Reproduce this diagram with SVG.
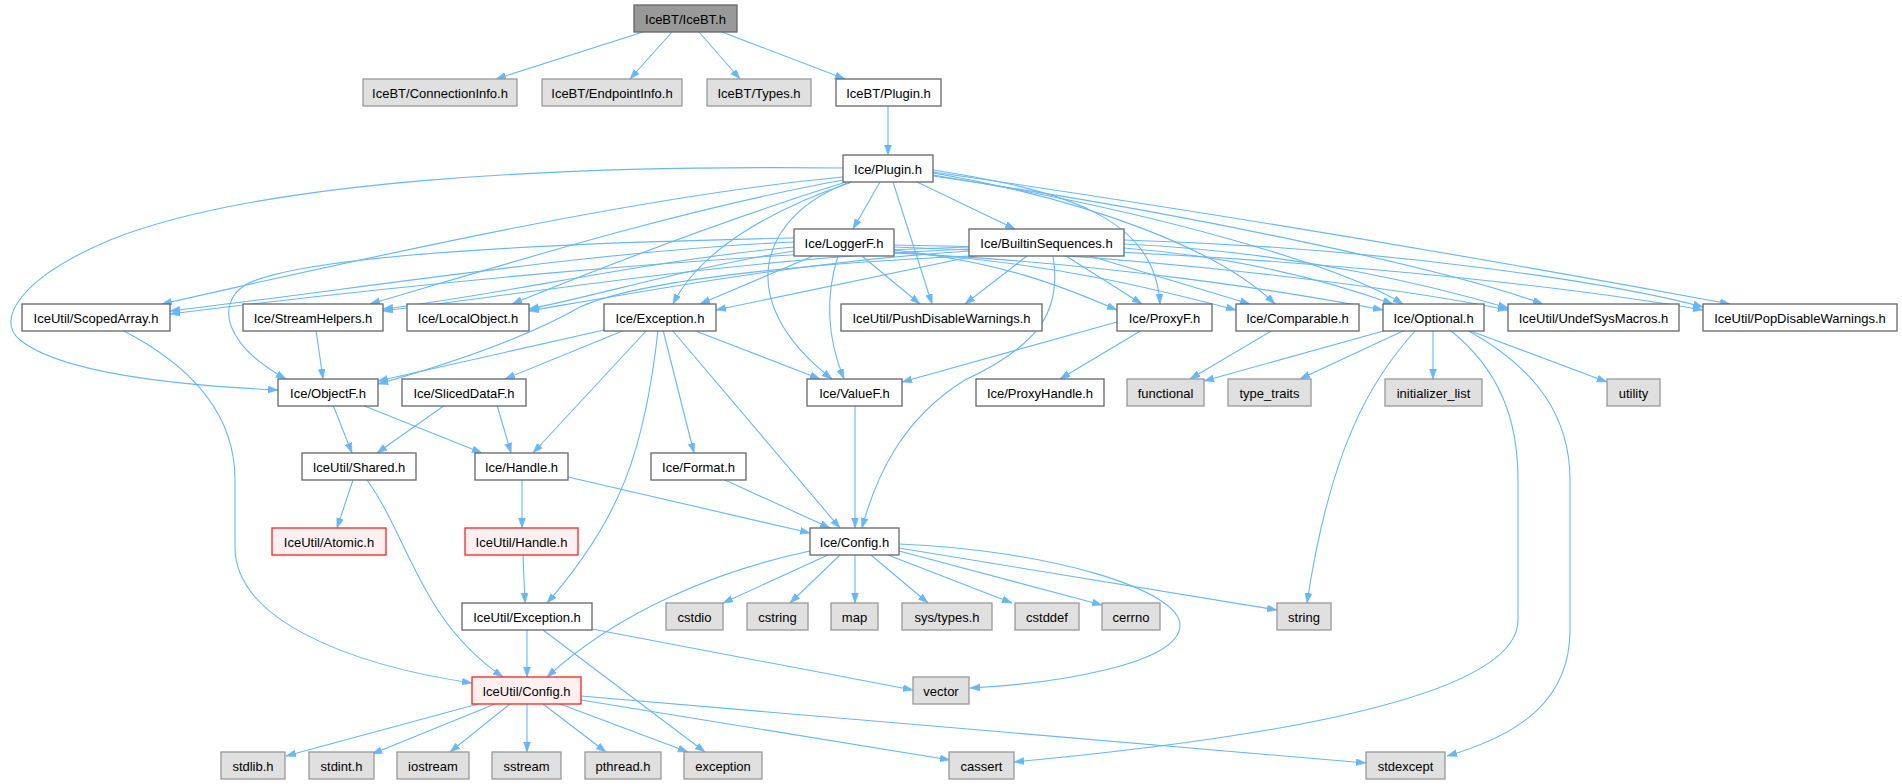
<svg xmlns="http://www.w3.org/2000/svg" width="1902" height="784" viewBox="0 0 1902 784">
<style>
text{font-family:"Liberation Sans",Arial,sans-serif;font-size:13px;text-anchor:middle;fill:#000}
.n rect{fill:#ffffff;stroke:#666666;stroke-width:1.3}
.g rect{fill:#e0e0e0;stroke:#999999;stroke-width:1.3}
.r rect{fill:#fff0f0;stroke:#ff2020;stroke-width:1.3}
.root rect{fill:#999999;stroke:#666666;stroke-width:1.3}
#edges path{fill:none;stroke:#63b8ff;stroke-width:1.1;marker-end:url(#a)}
</style>
<defs>
<marker id="a" markerUnits="userSpaceOnUse" markerWidth="11" markerHeight="8" refX="10" refY="3.5" orient="auto">
<path d="M0,0 L10,3.5 L0,7 z" fill="#63b8ff" stroke="#63b8ff" stroke-width="0.5"/>
</marker>
</defs>
<rect width="1902" height="784" fill="#ffffff"/>
<g id="edges">
<path d="M643,32 L496,79"/>
<path d="M672,32 L630,79"/>
<path d="M699,32 L740,79"/>
<path d="M722,32 L845,79"/>
<path d="M888,106 L888,155"/>
<path d="M843,168 C560,165 260,180 110,240 C20,278 -5,320 20,340 C60,372 170,385 278,390"/>
<path d="M843,177 C650,195 400,250 162,304"/>
<path d="M843,180 C680,210 520,260 370,304"/>
<path d="M846,182 C740,215 620,260 512,304"/>
<path d="M852,182 C770,210 700,250 673,304"/>
<path d="M880,182 L853,229"/>
<path d="M850,182 C760,215 730,300 832,379"/>
<path d="M893,182 L932,304"/>
<path d="M917,182 L1015,229"/>
<path d="M933,170 C1060,190 1155,215 1160,304"/>
<path d="M933,173 C1090,200 1220,250 1275,304"/>
<path d="M933,175 C1150,210 1340,265 1403,304"/>
<path d="M933,176 C1200,215 1450,270 1543,304"/>
<path d="M933,172 C1300,225 1600,280 1730,304"/>
<path d="M794,242 C600,250 350,290 170,311"/>
<path d="M794,247 C650,260 500,295 383,309"/>
<path d="M794,251 C700,265 600,295 529,309"/>
<path d="M794,238 C550,243 300,255 245,285 C215,305 225,345 286,379"/>
<path d="M813,256 L700,304"/>
<path d="M838,256 C824,300 828,340 844,379"/>
<path d="M862,256 L920,304"/>
<path d="M894,250 C1000,262 1060,285 1117,310"/>
<path d="M894,252 C1050,262 1160,290 1236,310"/>
<path d="M894,253 C1100,262 1290,292 1383,310"/>
<path d="M894,247 C1150,255 1400,288 1508,310"/>
<path d="M894,245 C1250,250 1560,285 1703,310"/>
<path d="M969,247 C700,255 400,285 170,314"/>
<path d="M969,249 C750,258 550,290 383,311"/>
<path d="M969,251 C800,262 650,290 529,311"/>
<path d="M970,256 C800,264 640,280 580,307 C540,330 480,355 378,384"/>
<path d="M975,256 L716,310"/>
<path d="M1027,256 L965,304"/>
<path d="M1066,256 L1142,304"/>
<path d="M1090,256 L1250,304"/>
<path d="M1124,248 C1250,258 1340,285 1393,304"/>
<path d="M1124,244 C1300,252 1440,288 1508,308"/>
<path d="M1124,240 C1400,248 1620,285 1703,307"/>
<path d="M1053,256 C1062,310 1040,345 965,380 C900,420 875,480 862,528"/>
<path d="M1117,322 L902,382"/>
<path d="M1142,330 L1060,379"/>
<path d="M1273,330 L1190,379"/>
<path d="M1387,330 L1204,381"/>
<path d="M1405,330 L1300,379"/>
<path d="M1433,330 L1433,379"/>
<path d="M1468,330 L1607,382"/>
<path d="M1416,330 C1370,380 1330,450 1307,603"/>
<path d="M1450,330 C1500,370 1518,420 1518,480 L1518,620 C1518,700 1250,740 1014,762"/>
<path d="M1467,330 C1540,370 1570,420 1570,480 L1570,630 C1570,700 1520,735 1447,756"/>
<path d="M316,330 L323,379"/>
<path d="M604,330 L378,381"/>
<path d="M625,330 L505,379"/>
<path d="M647,330 L533,453"/>
<path d="M658,330 C645,450 620,520 547,603"/>
<path d="M663,330 L694,453"/>
<path d="M672,330 L840,528"/>
<path d="M693,330 L820,379"/>
<path d="M333,405 L352,453"/>
<path d="M362,405 L482,453"/>
<path d="M445,405 L377,453"/>
<path d="M497,405 L511,453"/>
<path d="M353,480 L337,528"/>
<path d="M367,480 C410,540 420,620 503,677"/>
<path d="M522,480 L522,528"/>
<path d="M568,477 L810,533"/>
<path d="M725,480 L830,528"/>
<path d="M855,405 L855,528"/>
<path d="M122,330 C200,370 235,420 235,480 L235,547 C235,620 350,665 472,683"/>
<path d="M523,555 L525,603"/>
<path d="M527,630 L527,677"/>
<path d="M543,630 L705,752"/>
<path d="M592,629 L913,690"/>
<path d="M810,551 C720,570 620,610 547,677"/>
<path d="M828,555 L723,603"/>
<path d="M840,555 L790,603"/>
<path d="M855,555 L855,603"/>
<path d="M871,555 L928,603"/>
<path d="M888,555 L1012,603"/>
<path d="M899,551 L1102,605"/>
<path d="M899,548 L1277,610"/>
<path d="M899,544 C1050,550 1180,590 1180,625 C1180,665 1050,684 970,688"/>
<path d="M478,704 L286,756"/>
<path d="M495,704 L372,754"/>
<path d="M510,704 L450,752"/>
<path d="M527,704 L527,752"/>
<path d="M543,704 L606,752"/>
<path d="M560,704 L688,752"/>
<path d="M581,700 L950,760"/>
<path d="M581,696 L1366,763"/>
</g>
<g id="n_icebt" class="root"><rect x="634" y="5" width="103" height="27"/><text x="685.5" y="23.5">IceBT/IceBT.h</text></g>
<g id="n_conninfo" class="g"><rect x="363" y="79" width="154" height="27"/><text x="440" y="97.5">IceBT/ConnectionInfo.h</text></g>
<g id="n_epinfo" class="g"><rect x="542" y="79" width="140" height="27"/><text x="612" y="97.5">IceBT/EndpointInfo.h</text></g>
<g id="n_types" class="g"><rect x="707" y="79" width="104" height="27"/><text x="759" y="97.5">IceBT/Types.h</text></g>
<g id="n_btplugin" class="n"><rect x="836" y="79" width="105" height="27"/><text x="888.5" y="97.5">IceBT/Plugin.h</text></g>
<g id="n_plugin" class="n"><rect x="843" y="155" width="90" height="27"/><text x="888" y="173.5">Ice/Plugin.h</text></g>
<g id="n_loggerf" class="n"><rect x="794" y="229" width="100" height="27"/><text x="844" y="247.5">Ice/LoggerF.h</text></g>
<g id="n_builtin" class="n"><rect x="969" y="229" width="155" height="27"/><text x="1046.5" y="247.5">Ice/BuiltinSequences.h</text></g>
<g id="n_scoped" class="n"><rect x="22" y="304" width="148" height="27"/><text x="96" y="322.5">IceUtil/ScopedArray.h</text></g>
<g id="n_stream" class="n"><rect x="243" y="304" width="140" height="27"/><text x="313" y="322.5">Ice/StreamHelpers.h</text></g>
<g id="n_localobj" class="n"><rect x="407" y="304" width="122" height="27"/><text x="468" y="322.5">Ice/LocalObject.h</text></g>
<g id="n_exception" class="n"><rect x="604" y="304" width="112" height="27"/><text x="660" y="322.5">Ice/Exception.h</text></g>
<g id="n_push" class="n"><rect x="841" y="304" width="201" height="27"/><text x="941.5" y="322.5">IceUtil/PushDisableWarnings.h</text></g>
<g id="n_proxyf" class="n"><rect x="1117" y="304" width="95" height="27"/><text x="1164.5" y="322.5">Ice/ProxyF.h</text></g>
<g id="n_comparable" class="n"><rect x="1236" y="304" width="123" height="27"/><text x="1297.5" y="322.5">Ice/Comparable.h</text></g>
<g id="n_optional" class="n"><rect x="1383" y="304" width="101" height="27"/><text x="1433.5" y="322.5">Ice/Optional.h</text></g>
<g id="n_undef" class="n"><rect x="1508" y="304" width="171" height="27"/><text x="1593.5" y="322.5">IceUtil/UndefSysMacros.h</text></g>
<g id="n_pop" class="n"><rect x="1703" y="304" width="194" height="27"/><text x="1800" y="322.5">IceUtil/PopDisableWarnings.h</text></g>
<g id="n_objectf" class="n"><rect x="278" y="379" width="100" height="27"/><text x="328" y="397.5">Ice/ObjectF.h</text></g>
<g id="n_sliced" class="n"><rect x="402" y="379" width="124" height="27"/><text x="464" y="397.5">Ice/SlicedDataF.h</text></g>
<g id="n_valuef" class="n"><rect x="807" y="379" width="95" height="27"/><text x="854.5" y="397.5">Ice/ValueF.h</text></g>
<g id="n_proxyhandle" class="n"><rect x="976" y="379" width="128" height="27"/><text x="1040" y="397.5">Ice/ProxyHandle.h</text></g>
<g id="n_functional" class="g"><rect x="1127" y="379" width="77" height="27"/><text x="1165.5" y="397.5">functional</text></g>
<g id="n_typetraits" class="g"><rect x="1228" y="379" width="83" height="27"/><text x="1269.5" y="397.5">type_traits</text></g>
<g id="n_initlist" class="g"><rect x="1385" y="379" width="97" height="27"/><text x="1433.5" y="397.5">initializer_list</text></g>
<g id="n_utility" class="g"><rect x="1607" y="379" width="53" height="27"/><text x="1633.5" y="397.5">utility</text></g>
<g id="n_shared" class="n"><rect x="302" y="453" width="114" height="27"/><text x="359" y="471.5">IceUtil/Shared.h</text></g>
<g id="n_handle" class="n"><rect x="475" y="453" width="93" height="27"/><text x="521.5" y="471.5">Ice/Handle.h</text></g>
<g id="n_format" class="n"><rect x="651" y="453" width="95" height="27"/><text x="698.5" y="471.5">Ice/Format.h</text></g>
<g id="n_atomic" class="r"><rect x="272" y="528" width="114" height="27"/><text x="329" y="546.5">IceUtil/Atomic.h</text></g>
<g id="n_uhandle" class="r"><rect x="465" y="528" width="113" height="27"/><text x="521.5" y="546.5">IceUtil/Handle.h</text></g>
<g id="n_config" class="n"><rect x="810" y="528" width="89" height="27"/><text x="854.5" y="546.5">Ice/Config.h</text></g>
<g id="n_uexception" class="n"><rect x="462" y="603" width="130" height="27"/><text x="527" y="621.5">IceUtil/Exception.h</text></g>
<g id="n_cstdio" class="g"><rect x="666" y="603" width="57" height="27"/><text x="694.5" y="621.5">cstdio</text></g>
<g id="n_cstring" class="g"><rect x="747" y="603" width="61" height="27"/><text x="777.5" y="621.5">cstring</text></g>
<g id="n_map" class="g"><rect x="831" y="603" width="47" height="27"/><text x="854.5" y="621.5">map</text></g>
<g id="n_systypes" class="g"><rect x="902" y="603" width="90" height="27"/><text x="947" y="621.5">sys/types.h</text></g>
<g id="n_cstddef" class="g"><rect x="1015" y="603" width="64" height="27"/><text x="1047" y="621.5">cstddef</text></g>
<g id="n_cerrno" class="g"><rect x="1102" y="603" width="58" height="27"/><text x="1131" y="621.5">cerrno</text></g>
<g id="n_string" class="g"><rect x="1277" y="603" width="54" height="27"/><text x="1304" y="621.5">string</text></g>
<g id="n_uconfig" class="r"><rect x="472" y="677" width="109" height="27"/><text x="526.5" y="695.5">IceUtil/Config.h</text></g>
<g id="n_vector" class="g"><rect x="913" y="677" width="56" height="27"/><text x="941" y="695.5">vector</text></g>
<g id="n_stdlib" class="g"><rect x="221" y="752" width="64" height="27"/><text x="253" y="770.5">stdlib.h</text></g>
<g id="n_stdint" class="g"><rect x="309" y="752" width="65" height="27"/><text x="341.5" y="770.5">stdint.h</text></g>
<g id="n_iostream" class="g"><rect x="397" y="752" width="72" height="27"/><text x="433" y="770.5">iostream</text></g>
<g id="n_sstream" class="g"><rect x="492" y="752" width="69" height="27"/><text x="526.5" y="770.5">sstream</text></g>
<g id="n_pthread" class="g"><rect x="585" y="752" width="76" height="27"/><text x="623" y="770.5">pthread.h</text></g>
<g id="n_exceptionstd" class="g"><rect x="684" y="752" width="78" height="27"/><text x="723" y="770.5">exception</text></g>
<g id="n_cassert" class="g"><rect x="949" y="752" width="65" height="27"/><text x="981.5" y="770.5">cassert</text></g>
<g id="n_stdexcept" class="g"><rect x="1366" y="752" width="79" height="27"/><text x="1405.5" y="770.5">stdexcept</text></g>
</svg>
